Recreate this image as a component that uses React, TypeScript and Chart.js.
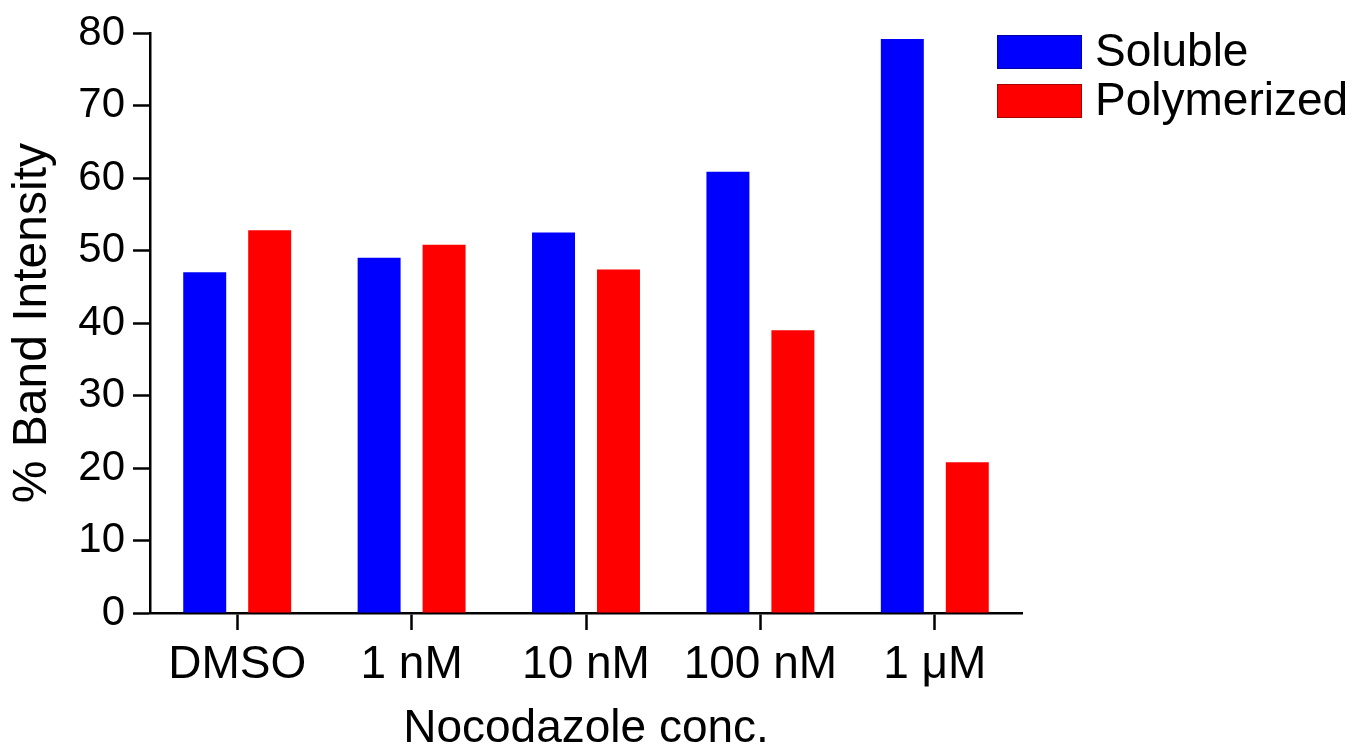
import React, { useEffect, useRef } from "react";
import { Chart, registerables } from "chart.js";

Chart.register(...registerables);

const categories = ["DMSO", "1 nM", "10 nM", "100 nM", "1 μM"];
const solubleValues = [47.0, 49.0, 52.5, 60.9, 79.2];
const polymerizedValues = [52.8, 50.8, 47.4, 39.0, 20.8];
const seriesLabels = ["Soluble", "Polymerized"];
const seriesColors = ["#0000FF", "#FF0000"];
const yTickMin = 0;
const yTickMax = 80;
const yTickStep = 10;

const FONT = "'Liberation Sans', Arial, Helvetica, sans-serif";

const legendPlugin = {
  id: "customLegend",
  afterDraw(chart: any) {
    const ctx = chart.ctx;
    const x0 = 997;
    const y0 = 35;
    const boxW = 85;
    const boxH = 34;
    const rowH = 49;
    ctx.save();
    ctx.font = `46px ${FONT}`;
    ctx.textBaseline = "middle";
    ctx.textAlign = "left";
    chart.data.datasets.forEach((ds: any, i: number) => {
      const y = y0 + i * rowH;
      ctx.fillStyle = ds.backgroundColor;
      ctx.fillRect(x0, y, boxW, boxH);
      ctx.strokeStyle = "rgba(0,0,0,0.35)";
      ctx.lineWidth = 1;
      ctx.strokeRect(x0 + 0.5, y + 0.5, boxW - 1, boxH - 1);
      ctx.fillStyle = "#000";
      ctx.fillText(ds.label, x0 + boxW + 13, y + boxH / 2 + 1);
    });
    ctx.restore();
  },
};

export default function App() {
  const ref = useRef<HTMLCanvasElement>(null);
  useEffect(() => {
    document.body.style.margin = "0";
    const canvas = ref.current!;
    const chart = new Chart(canvas, {
      type: "bar",
      data: {
        labels: categories,
        datasets: [
          {
            label: seriesLabels[0],
            data: solubleValues,
            backgroundColor: seriesColors[0],
            borderWidth: 0,
          },
          {
            label: seriesLabels[1],
            data: polymerizedValues,
            backgroundColor: seriesColors[1],
            borderWidth: 0,
          },
        ],
      },
      options: {
        responsive: false,
        animation: false,
        events: [],
        layout: { padding: { top: 10, right: 339, left: 0, bottom: 0 } },
        categoryPercentage: 0.745,
        barPercentage: 0.6615,
        plugins: {
          legend: { display: false },
          tooltip: { enabled: false },
        },
        scales: {
          x: {
            grid: {
              display: true,
              drawOnChartArea: false,
              drawTicks: true,
              tickLength: 17,
              tickWidth: 2.5,
              color: "#000",
              offset: false,
            },
            border: { display: true, color: "#000", width: 2.5 },
            ticks: {
              color: "#000",
              font: { family: FONT, size: 46 },
              padding: 8,
              maxRotation: 0,
              autoSkip: false,
            },
            title: {
              display: true,
              text: "Nocodazole conc.",
              color: "#000",
              font: { family: FONT, size: 46 },
              padding: { top: 0, bottom: -6 },
            },
            afterFit(scale: any) {
              scale.height = 138;
            },
          },
          y: {
            min: yTickMin,
            max: yTickMax,
            grid: {
              display: true,
              drawOnChartArea: false,
              drawTicks: true,
              tickLength: 17,
              tickWidth: 2.5,
              color: "#000",
            },
            border: { display: true, color: "#000", width: 2.5 },
            ticks: {
              stepSize: yTickStep,
              color: "#000",
              font: { family: FONT, size: 42 },
              padding: 8,
            },
            title: {
              display: true,
              text: "% Band Intensity",
              color: "#000",
              font: { family: FONT, size: 48 },
              padding: { top: 4, bottom: 6 },
            },
            afterFit(scale: any) {
              scale.width = 150;
            },
          },
        },
      },
      plugins: [legendPlugin],
    } as any);
    return () => chart.destroy();
  }, []);
  return <canvas ref={ref} width={1361} height={751} style={{ display: "block" }} />;
}
